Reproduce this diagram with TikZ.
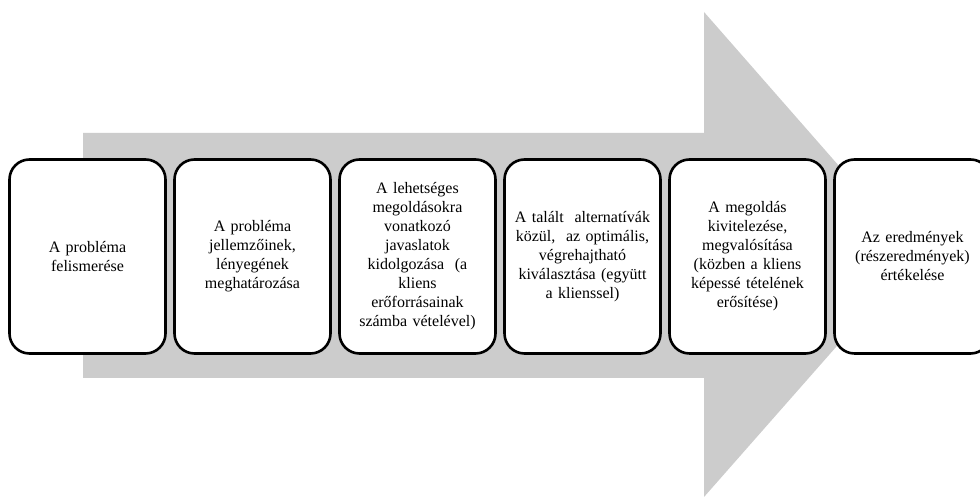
\documentclass[tikz,border=0pt]{standalone}
\usepackage{fontspec}
\setmainfont{Liberation Serif}
\usetikzlibrary{positioning}

\tikzset{
  stepbox/.style={draw, line width=2.6pt, fill=white, rounded corners=20pt,
    minimum width=156pt, minimum height=194pt, inner sep=0pt, outer sep=0pt,
    text width=150pt, align=center,
    font=\fontsize{16}{19}\selectfont}
}

\begin{document}
\begin{tikzpicture}[x=1pt,y=1pt]
\clip (0,0) rectangle (980,497);
\fill[white] (0,0) rectangle (980,497);
\coordinate (A) at (83,364);
\coordinate (B) at (704,364);
\coordinate (C) at (704,485);
\coordinate (D) at (917,242);
\coordinate (E) at (704,0);
\coordinate (F) at (704,119);
\coordinate (G) at (83,119);

% Draw the big gray arrow behind the steps
\fill[black!20] (A) -- (B) -- (C) -- (D) -- (E) -- (F) -- (G) -- cycle;

% Draw the steps, one box after the other
\node[stepbox] (s1) at (87.5,240.5) {A probléma\\felismerése};
\node[stepbox, right=9pt of s1] (s2) {A probléma\\jellemzőinek,\\lényegének\\meghatározása};
\node[stepbox, right=9pt of s2] (s3) {A lehetséges\\megoldásokra\\vonatkozó\\javaslatok\\kidolgozása\ \ (a\\kliens\\erőforrásainak\\számba vételével)};
\node[stepbox, right=9pt of s3] (s4) {A talált\ \ alternatívák\\közül,\ \ az optimális,\\végrehajtható\\kiválasztása (együtt\\a klienssel)};
\node[stepbox, right=9pt of s4] (s5) {A megoldás\\kivitelezése,\\megvalósítása\\(közben\ a kliens\\képessé tételének\\erősítése)};
\node[stepbox, right=9pt of s5] (s6) {Az eredmények\\(részeredmények)\\értékelése};

\end{tikzpicture}
\end{document}
